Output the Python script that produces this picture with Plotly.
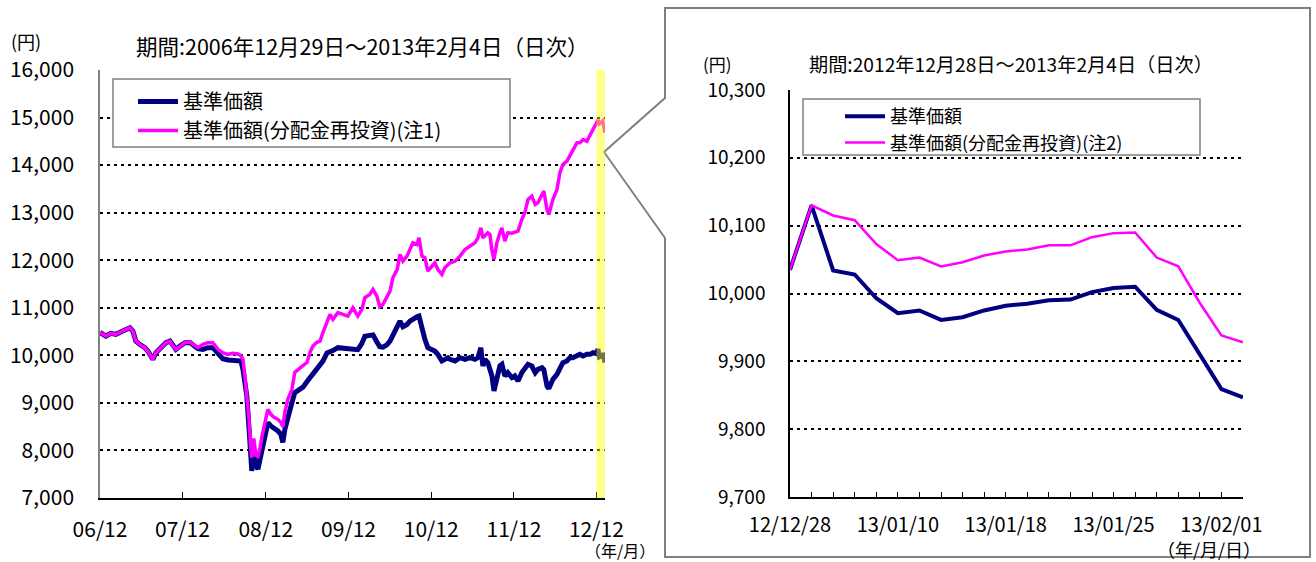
import plotly.graph_objects as go
import pandas as pd

# ---------------- data: left chart (daily NAV, 2006/12/29 - 2013/02/04) ----------------
long_dates = [
    "2006-12-29", "2007-01-24", "2007-02-15", "2007-03-09", "2007-03-30", "2007-04-22", "2007-05-10", "2007-05-23", "2007-06-05", "2007-06-22",
    "2007-07-15", "2007-07-28", "2007-08-11", "2007-08-19", "2007-09-02", "2007-09-24", "2007-10-16", "2007-11-03", "2007-11-16", "2007-11-29",
    "2007-12-17", "2008-01-08", "2008-01-30", "2008-02-21", "2008-03-05", "2008-03-27", "2008-04-18", "2008-05-10", "2008-06-02", "2008-06-23",
    "2008-07-16", "2008-08-07", "2008-08-29", "2008-09-11", "2008-09-20", "2008-09-29", "2008-10-07", "2008-10-16", "2008-10-25", "2008-10-29",
    "2008-11-07", "2008-11-16", "2008-11-25", "2008-12-04", "2008-12-13", "2008-12-26", "2009-01-08", "2009-01-21", "2009-02-04", "2009-02-21",
    "2009-03-06", "2009-03-15", "2009-03-24", "2009-04-06", "2009-04-24", "2009-05-07", "2009-05-25", "2009-06-12", "2009-06-30", "2009-07-13",
    "2009-07-26", "2009-08-12", "2009-08-26", "2009-09-08", "2009-09-26", "2009-10-09", "2009-10-22", "2009-11-13", "2009-12-05", "2009-12-27",
    "2010-01-18", "2010-02-09", "2010-02-27", "2010-03-12", "2010-04-03", "2010-04-17", "2010-05-04", "2010-05-17", "2010-05-31", "2010-06-17",
    "2010-07-01", "2010-07-14", "2010-08-02", "2010-08-14", "2010-08-27", "2010-09-14", "2010-09-27", "2010-10-10", "2010-10-28", "2010-11-06",
    "2010-11-19", "2010-12-02", "2010-12-15", "2011-01-04", "2011-01-15", "2011-01-28", "2011-02-15", "2011-02-28", "2011-03-14", "2011-03-23",
    "2011-04-14", "2011-05-06", "2011-05-28", "2011-06-19", "2011-07-11", "2011-07-24", "2011-08-06", "2011-08-15", "2011-08-24", "2011-09-06",
    "2011-09-15", "2011-09-24", "2011-10-03", "2011-10-16", "2011-10-29", "2011-11-07", "2011-11-20", "2011-12-03", "2011-12-21", "2012-01-03",
    "2012-01-17", "2012-02-03", "2012-02-16", "2012-03-01", "2012-03-18", "2012-04-02", "2012-04-14", "2012-05-02", "2012-05-10", "2012-05-24",
    "2012-06-01", "2012-06-19", "2012-07-07", "2012-07-20", "2012-08-02", "2012-08-20", "2012-09-02", "2012-09-15", "2012-10-03", "2012-10-16",
    "2012-10-30", "2012-11-16", "2012-11-30", "2012-12-13",
]
long_nav = [
    10480, 10405, 10462, 10441, 10490, 10546, 10580, 10510, 10300, 10231,
    10161, 10090, 9985, 9916, 10056, 10161, 10266, 10300, 10195, 10126,
    10195, 10266, 10270, 10190, 10140, 10126, 10161, 10161, 10021, 9930,
    9902, 9902, 9900, 9880, 9706, 9400, 9146, 8515, 7815, 7570,
    7956, 7700, 7605, 7800, 8050, 8300, 8585, 8515, 8480, 8410,
    8340, 8172, 8445, 8725, 9006, 9216, 9270, 9330, 9450, 9531,
    9620, 9730, 9776, 9880, 10050, 10090, 10100, 10161, 10150, 10160,
    10150, 10120, 10250, 10400, 10420, 10430, 10280, 10180, 10170, 10220,
    10300, 10420, 10650, 10720, 10600, 10650, 10720, 10770, 10810, 10826,
    10546, 10336, 10161, 10126, 10090, 10021, 9881, 9916, 9951, 9916,
    9881, 9951, 9916, 9951, 9916, 9951, 10161, 9776, 9916, 9846,
    9700, 9566, 9251, 9566, 9776, 9811, 9566, 9636, 9531, 9566,
    9461, 9636, 9706, 9811, 9776, 9636, 9706, 9741, 9700, 9356,
    9300, 9496, 9601, 9741, 9846, 9881, 9951, 9951, 9986, 10021,
    9986, 10021, 10021, 10056,
]
long_reinv = [
    10480, 10405, 10462, 10441, 10490, 10546, 10580, 10510, 10300, 10231,
    10161, 10090, 9985, 9916, 10056, 10161, 10266, 10300, 10195, 10126,
    10195, 10266, 10280, 10210, 10161, 10231, 10266, 10266, 10126, 10056,
    10021, 10042, 10030, 9990, 9916, 9538, 9200, 8700, 8050, 7850,
    8250, 7900, 7880, 8050, 8300, 8600, 8865, 8760, 8697, 8655,
    8592, 8500, 8802, 9076, 9286, 9643, 9706, 9776, 9853, 10063,
    10195, 10273, 10300, 10476, 10700, 10861, 10756, 10897, 10861, 10826,
    11001, 10826, 10966, 11212, 11282, 11387, 11246, 11022, 11071, 11212,
    11352, 11632, 11807, 12122, 11981, 12086, 12227, 12367, 12332, 12472,
    12086, 12052, 11771, 11876, 11946, 11807, 11702, 11842, 11912, 11946,
    11981, 12086, 12227, 12297, 12367, 12472, 12682, 12472, 12520, 12577,
    12542, 12200, 12017, 12367, 12577, 12682, 12402, 12577, 12570, 12590,
    12612, 12857, 12997, 13277, 13347, 13172, 13207, 13382, 13452, 13067,
    12962, 13277, 13487, 13838, 14013, 14083, 14188, 14328, 14468, 14468,
    14538, 14503, 14643, 14748,
]
# reinvested NAV (left scale) inside the highlighted period
tail_reinv_dates = ["2012-12-28", "2013-01-04", "2013-01-10", "2013-01-18", "2013-01-25", "2013-01-31", "2013-02-04"]
tail_reinv = [14880, 14950, 14870, 14900, 14930, 14780, 14680]

left_tick_dates = ["2006-12-29", "2007-12-28", "2008-12-30", "2009-12-30", "2010-12-30", "2011-12-30", "2012-12-28"]
left_tick_labels = ["06/12", "07/12", "08/12", "09/12", "10/12", "11/12", "12/12"]

# ---------------- data: right chart (2012/12/28 - 2013/02/04) ----------------
short_dates = [
    "2012-12-28", "2013-01-04", "2013-01-07", "2013-01-08", "2013-01-09", "2013-01-10", "2013-01-11",
    "2013-01-15", "2013-01-16", "2013-01-17", "2013-01-18", "2013-01-21", "2013-01-22", "2013-01-23",
    "2013-01-24", "2013-01-25", "2013-01-28", "2013-01-29", "2013-01-30", "2013-01-31", "2013-02-01", "2013-02-04",
]
short_nav = [10035, 10130, 10034, 10028, 9993, 9971, 9975, 9961, 9965, 9975, 9982,
             9985, 9990, 9991, 10002, 10008, 10010, 9976, 9961, 9910, 9859, 9847]
short_reinv = [10035, 10130, 10115, 10108, 10073, 10049, 10053, 10040, 10046, 10056, 10062,
               10065, 10071, 10071, 10083, 10089, 10090, 10053, 10040, 9986, 9938, 9928]
short_labelled = ["2012-12-28", "2013-01-10", "2013-01-18", "2013-01-25", "2013-02-01"]

# ---------------- styling ----------------
W, H = 1316, 562
FONT = "Noto Sans CJK JP"
NAVY = "#000080"
MAGENTA = "#FF00FF"
GRAY = "#808080"


def px(x):
    return x / W


def py(y):
    return 1 - y / H


short_cats = [pd.Timestamp(d).strftime("%y/%m/%d") for d in short_dates]
short_ticktext = [pd.Timestamp(d).strftime("%y/%m/%d") if d in short_labelled else "" for d in short_dates]

fig = go.Figure()

# left chart
fig.add_trace(go.Scatter(
    x=pd.to_datetime(long_dates + short_dates), y=long_nav + short_nav,
    mode="lines", name="基準価額", line=dict(color=NAVY, width=5),
    xaxis="x", yaxis="y", legend="legend"))
fig.add_trace(go.Scatter(
    x=pd.to_datetime(long_dates + tail_reinv_dates), y=long_reinv + tail_reinv,
    mode="lines", name="基準価額(分配金再投資)(注1)", line=dict(color=MAGENTA, width=3.5),
    xaxis="x", yaxis="y", legend="legend"))

# right chart
fig.add_trace(go.Scatter(
    x=short_cats, y=short_nav, mode="lines", name="基準価額",
    line=dict(color=NAVY, width=4), xaxis="x2", yaxis="y2", legend="legend2"))
fig.add_trace(go.Scatter(
    x=short_cats, y=short_reinv, mode="lines", name="基準価額(分配金再投資)(注2)",
    line=dict(color=MAGENTA, width=2.5), xaxis="x2", yaxis="y2", legend="legend2"))

grid = dict(showgrid=True, gridcolor="black", gridwidth=2, griddash="3px,4px", zeroline=False)

fig.update_layout(
    width=W, height=H, autosize=False,
    margin=dict(l=0, r=0, t=0, b=0, pad=0, autoexpand=False),
    paper_bgcolor="white", plot_bgcolor="rgba(0,0,0,0)",
    font=dict(family=FONT, size=20, color="black"),
    xaxis=dict(
        domain=[px(100), px(605)], anchor="y", type="date", automargin=False,
        range=["2006-12-29", "2013-02-04"],
        tickmode="array", tickvals=pd.to_datetime(left_tick_dates), ticktext=left_tick_labels,
        ticks="inside", ticklen=6, tickcolor="black", tickwidth=1,
        showline=True, linecolor="black", linewidth=1.5, showgrid=False, zeroline=False,
        ticklabelstandoff=12, tickfont=dict(size=21)),
    yaxis=dict(
        domain=[py(498), py(70)], anchor="x", range=[7000, 16000], dtick=1000, tick0=7000,
        automargin=False,
        tickformat=",", showline=True, linecolor=GRAY, linewidth=1.5, ticks="",
        ticklabelstandoff=20, tickfont=dict(size=21), **grid),
    xaxis2=dict(
        domain=[px(790), px(1243)], anchor="y2", type="category", automargin=False,
        categoryorder="array", categoryarray=short_cats, range=[0, len(short_cats) - 1],
        tickmode="array", tickvals=short_cats, ticktext=short_ticktext,
        ticks="inside", ticklen=5, tickcolor="black", tickwidth=1,
        showline=True, linecolor="black", linewidth=1.5, showgrid=False, zeroline=False,
        ticklabelstandoff=9, tickfont=dict(size=20)),
    yaxis2=dict(
        domain=[py(497), py(90)], anchor="x2", range=[9700, 10300], dtick=100, tick0=9700,
        automargin=False,
        tickformat=",", showline=True, linecolor="black", linewidth=1.5, ticks="",
        ticklabelstandoff=19, tickfont=dict(size=19), **grid),
    legend=dict(x=px(133), y=py(82), xanchor="left", yanchor="top",
                bgcolor="rgba(0,0,0,0)", borderwidth=0, font=dict(size=20),
                tracegroupgap=0, itemwidth=40),
    legend2=dict(x=px(840), y=py(98), xanchor="left", yanchor="top",
                 bgcolor="rgba(0,0,0,0)", borderwidth=0, font=dict(size=18),
                 tracegroupgap=0, itemwidth=40),
    showlegend=True,
)

shapes = [
    # right panel frame with call-out pointer
    dict(type="path", xref="paper", yref="paper", layer="below",
         path=(f"M {px(665)},{py(8)} L {px(1310)},{py(8)} L {px(1310)},{py(557)} "
               f"L {px(665)},{py(557)} L {px(665)},{py(238)} L {px(604)},{py(152)} "
               f"L {px(665)},{py(98)} Z"),
         fillcolor="white", line=dict(color=GRAY, width=2)),
    # legend boxes
    dict(type="rect", xref="paper", yref="paper", layer="above",
         x0=px(113), x1=px(510), y0=py(147), y1=py(79),
         fillcolor="white", line=dict(color=GRAY, width=1.5)),
    dict(type="rect", xref="paper", yref="paper", layer="above",
         x0=px(803), x1=px(1200), y0=py(155), y1=py(99),
         fillcolor="white", line=dict(color=GRAY, width=1.5)),
    # highlighted period on the left chart
    dict(type="rect", xref="x", yref="y domain", layer="above",
         x0=short_dates[0], x1=short_dates[-1], y0=0, y1=1,
         fillcolor="rgba(255,255,0,0.45)", line=dict(width=0)),
]
fig.update_layout(shapes=shapes)

ann = [
    dict(text="(円)", x=px(26), y=py(41), size=18, xanchor="center"),
    dict(text="期間:2006年12月29日～2013年2月4日（日次）", x=px(362), y=py(46), size=21.5, xanchor="center"),
    dict(text="（年/月）", x=px(657), y=py(550), size=16, xanchor="right"),
    dict(text="(円)", x=px(717), y=py(63), size=17, xanchor="center"),
    dict(text="期間:2012年12月28日～2013年2月4日（日次）", x=px(1011), y=py(64), size=19.2, xanchor="center"),
    dict(text="（年/月/日）", x=px(1263), y=py(549), size=18, xanchor="right"),
]
fig.update_layout(annotations=[
    dict(text=a["text"], x=a["x"], y=a["y"], xref="paper", yref="paper",
         xanchor=a["xanchor"], yanchor="middle", showarrow=False,
         font=dict(family=FONT, size=a["size"], color="black"))
    for a in ann
])

fig.write_html(
    "out.html",
    config={"displayModeBar": False},
    post_script="document.body.style.margin='0px';document.body.style.overflow='hidden';",
)
